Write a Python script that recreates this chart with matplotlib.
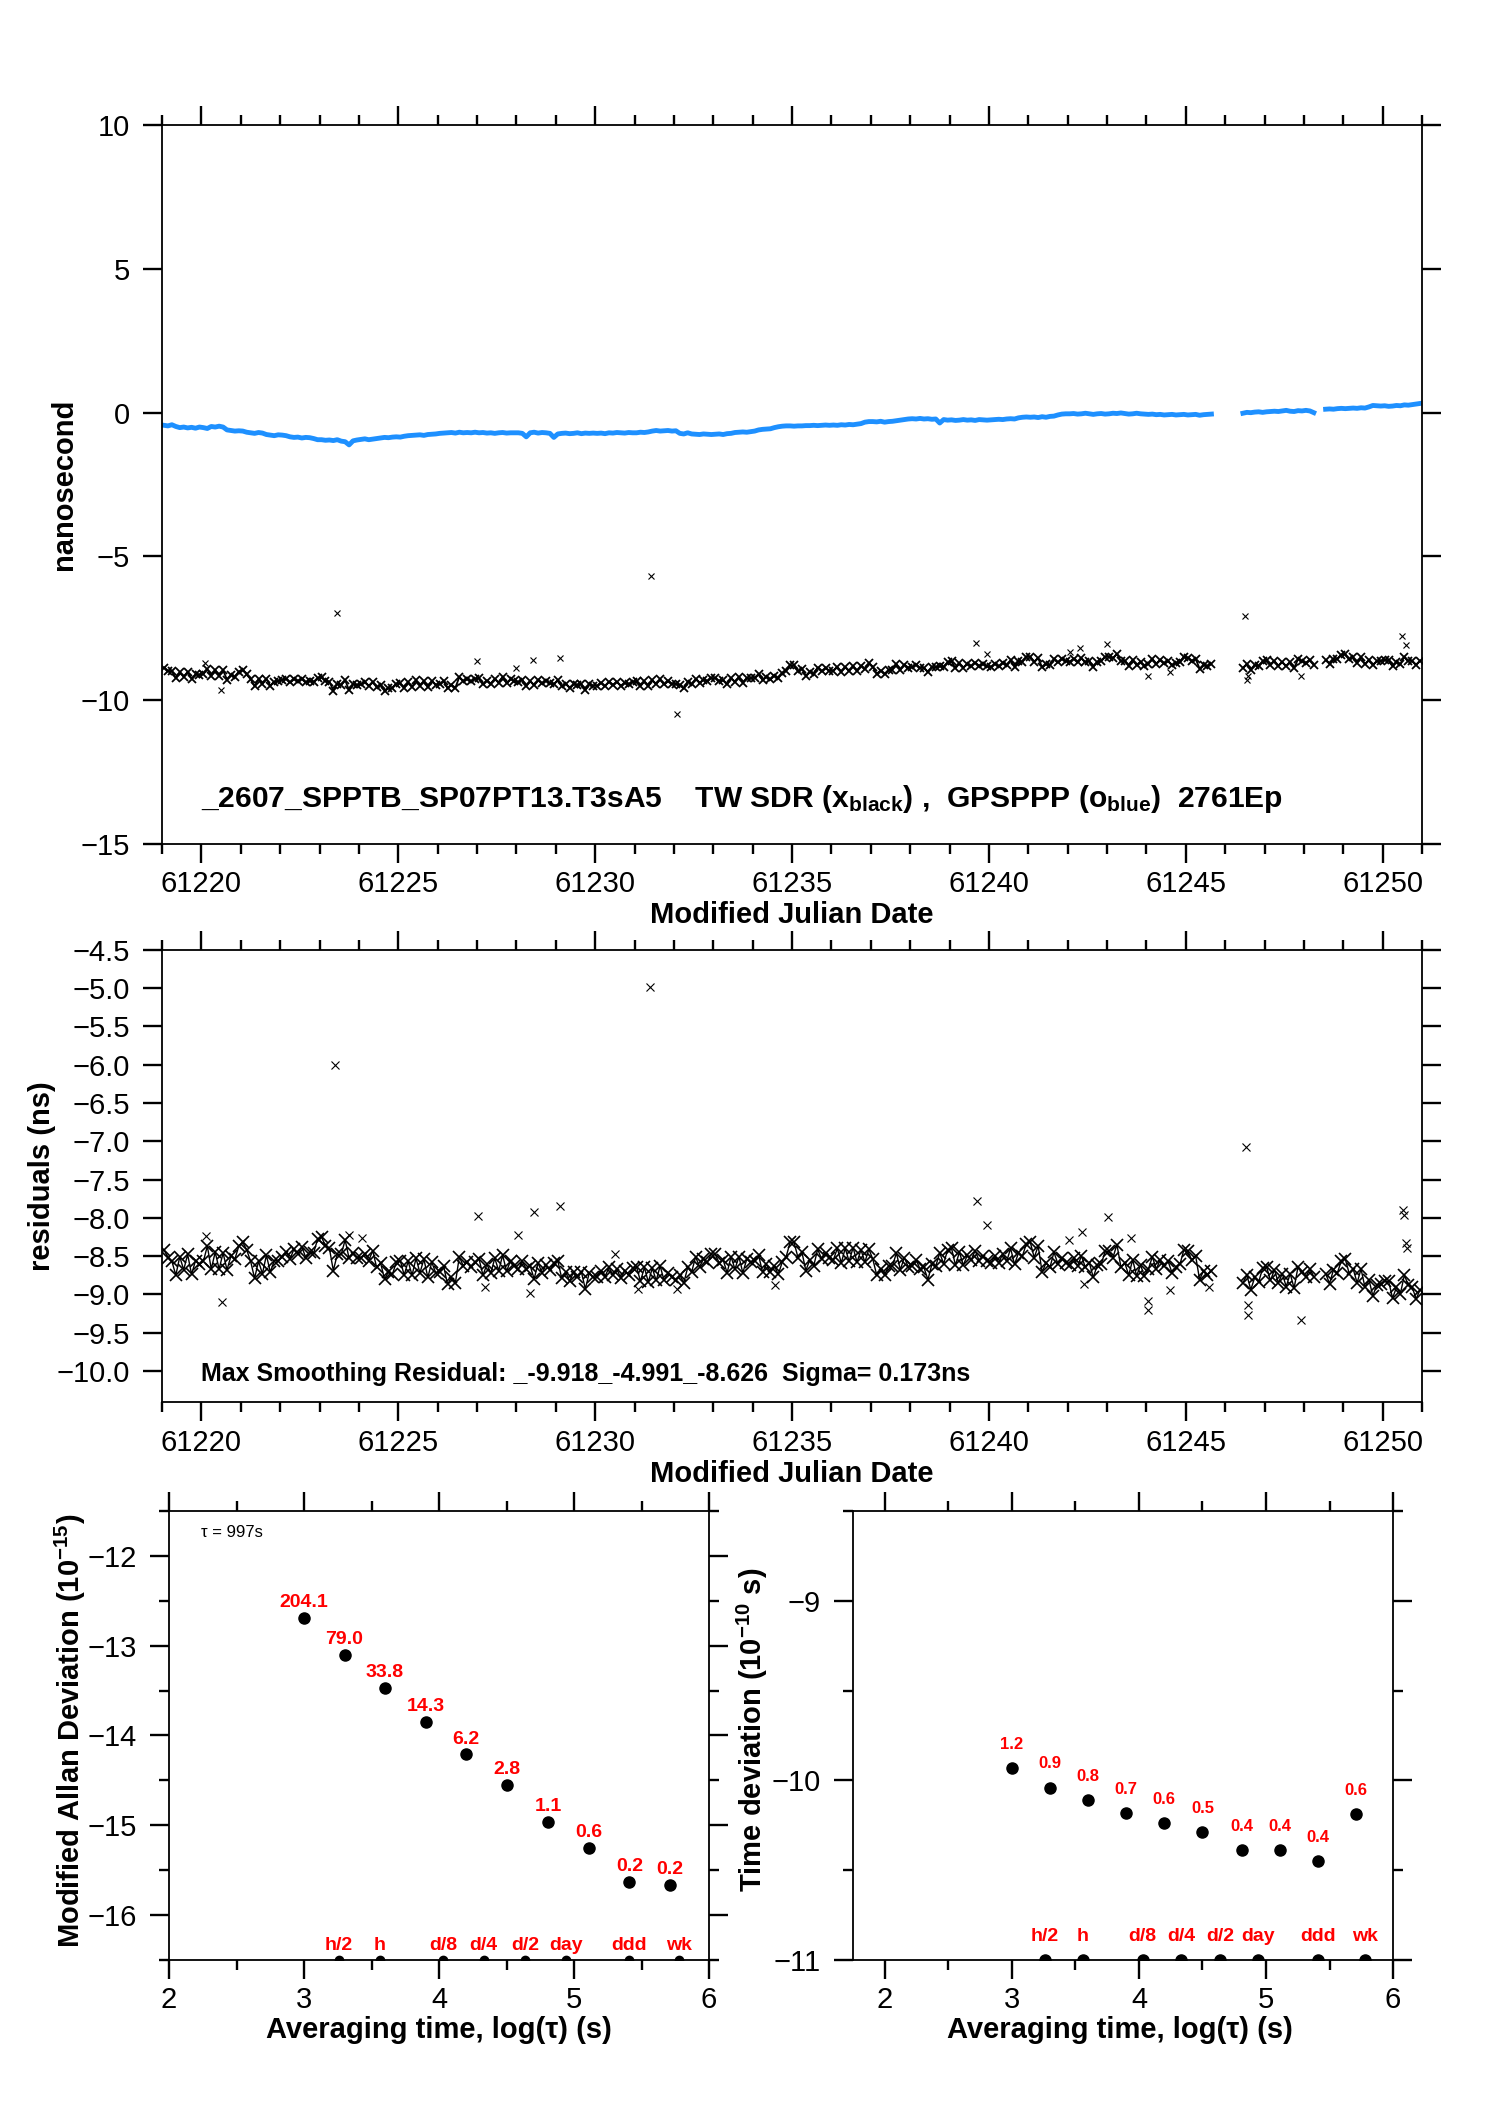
import numpy as np
import matplotlib
matplotlib.use('Agg')
import matplotlib.pyplot as plt
from matplotlib.ticker import MultipleLocator

nan = np.nan

# GPSPPP offset (ns), one value every 0.1 d starting at MJD 61219.05
gps_ppp = [
    -0.44, -0.46, -0.42, -0.48, -0.52, -0.50, -0.53, -0.51, -0.54, -0.50,
    -0.52, -0.55, -0.48, -0.50, -0.47, -0.50, -0.60, -0.62, -0.64, -0.63,
    -0.64, -0.68, -0.70, -0.72, -0.69, -0.71, -0.76, -0.78, -0.80, -0.77,
    -0.78, -0.80, -0.84, -0.86, -0.85, -0.88, -0.86, -0.87, -0.90, -0.94,
    -0.94, -0.96, -0.95, -0.97, -0.94, -0.99, -1.01, -1.12, -0.98, -0.95,
    -0.93, -0.91, -0.94, -0.92, -0.90, -0.88, -0.86, -0.87, -0.85, -0.84,
    -0.85, -0.82, -0.80, -0.79, -0.78, -0.77, -0.79, -0.76, -0.75, -0.74,
    -0.72, -0.71, -0.70, -0.69, -0.71, -0.68, -0.70, -0.69, -0.70, -0.68,
    -0.70, -0.69, -0.71, -0.70, -0.72, -0.70, -0.69, -0.71, -0.70, -0.70,
    -0.70, -0.72, -0.84, -0.70, -0.68, -0.71, -0.69, -0.70, -0.72, -0.86,
    -0.74, -0.72, -0.71, -0.73, -0.72, -0.70, -0.73, -0.71, -0.72, -0.71,
    -0.72, -0.71, -0.73, -0.70, -0.71, -0.69, -0.70, -0.71, -0.69, -0.70,
    -0.70, -0.68, -0.69, -0.67, -0.64, -0.62, -0.64, -0.63, -0.62, -0.64,
    -0.63, -0.72, -0.74, -0.70, -0.74, -0.75, -0.76, -0.74, -0.75, -0.76,
    -0.75, -0.74, -0.76, -0.73, -0.72, -0.69, -0.68, -0.67, -0.68, -0.66,
    -0.64, -0.60, -0.58, -0.57, -0.56, -0.52, -0.49, -0.47, -0.46, -0.46,
    -0.47, -0.46, -0.46, -0.45, -0.45, -0.44, -0.45, -0.44, -0.43, -0.44,
    -0.43, -0.44, -0.42, -0.43, -0.41, -0.42, -0.40, -0.38, -0.33, -0.31,
    -0.31, -0.32, -0.30, -0.33, -0.31, -0.30, -0.28, -0.26, -0.24, -0.22,
    -0.21, -0.22, -0.20, -0.22, -0.21, -0.23, -0.22, -0.36, -0.24, -0.26,
    -0.25, -0.27, -0.26, -0.24, -0.26, -0.25, -0.27, -0.24, -0.25, -0.26,
    -0.25, -0.24, -0.23, -0.24, -0.22, -0.21, -0.22, -0.18, -0.16, -0.15,
    -0.16, -0.15, -0.17, -0.14, -0.16, -0.13, -0.12, -0.08, -0.05, -0.04,
    -0.04, -0.03, -0.05, -0.04, -0.02, -0.04, -0.06, -0.04, -0.03, -0.05,
    -0.04, -0.02, -0.03, -0.01, -0.03, -0.05, -0.04, -0.02, -0.04, -0.05,
    -0.06, -0.05, -0.07, -0.06, -0.08, -0.07, -0.06, -0.08, -0.07, -0.06,
    -0.08, -0.07, -0.06, -0.09, -0.07, -0.06, -0.05, nan, nan, nan,
    nan, nan, nan, nan, -0.02, 0.01, 0.00, 0.02, 0.03, 0.01,
    0.03, 0.04, 0.05, 0.04, 0.06, 0.08, 0.05, 0.04, 0.07, 0.06,
    0.08, 0.06, 0.00, nan, nan, 0.12, 0.13, 0.12, 0.14, 0.15,
    0.14, 0.15, 0.16, 0.15, 0.17, 0.16, 0.20, 0.25, 0.24, 0.23,
    0.24, 0.22, 0.23, 0.25, 0.24, 0.27, 0.26, 0.28, 0.30, 0.32,
]

# residuals TW SDR - GPSPPP (ns), same epochs
resid = [
    -8.42, -8.52, -8.57, -8.75, -8.51, -8.68, -8.48, -8.74, -8.56, -8.61,
    -8.57, -8.37, -8.67, -8.45, -8.67, -8.46, -8.68, -8.50, -8.54, -8.37,
    -8.32, -8.42, -8.57, -8.79, -8.57, -8.73, -8.49, -8.71, -8.56, -8.56,
    -8.51, -8.45, -8.54, -8.41, -8.47, -8.38, -8.52, -8.45, -8.46, -8.28,
    -8.25, -8.37, -8.40, -8.69, -8.48, -8.48, -8.29, -8.53, -8.46, -8.52,
    -8.52, -8.47, -8.56, -8.43, -8.65, -8.59, -8.80, -8.71, -8.74, -8.58,
    -8.56, -8.75, -8.57, -8.75, -8.53, -8.72, -8.54, -8.78, -8.58, -8.72,
    -8.71, -8.63, -8.87, -8.78, -8.85, -8.51, -8.63, -8.58, -8.64, -8.58,
    -8.54, -8.75, -8.61, -8.72, -8.53, -8.69, -8.49, -8.70, -8.56, -8.63,
    -8.67, -8.57, -8.67, -8.63, -8.80, -8.59, -8.72, -8.62, -8.68, -8.59,
    -8.56, -8.79, -8.71, -8.83, -8.71, -8.78, -8.71, -8.93, -8.72, -8.78,
    -8.77, -8.69, -8.77, -8.65, -8.75, -8.67, -8.79, -8.69, -8.75, -8.66,
    -8.64, -8.83, -8.65, -8.84, -8.66, -8.82, -8.63, -8.82, -8.72, -8.78,
    -8.81, -8.75, -8.85, -8.65, -8.71, -8.51, -8.64, -8.54, -8.58, -8.47,
    -8.48, -8.59, -8.55, -8.72, -8.51, -8.67, -8.51, -8.72, -8.54, -8.58,
    -8.57, -8.49, -8.71, -8.61, -8.71, -8.63, -8.74, -8.58, -8.51, -8.32,
    -8.32, -8.52, -8.45, -8.69, -8.55, -8.63, -8.41, -8.54, -8.46, -8.53,
    -8.55, -8.40, -8.59, -8.40, -8.57, -8.39, -8.58, -8.42, -8.58, -8.41,
    -8.54, -8.75, -8.67, -8.75, -8.63, -8.63, -8.46, -8.68, -8.52, -8.64,
    -8.63, -8.55, -8.67, -8.65, -8.81, -8.61, -8.63, -8.46, -8.60, -8.42,
    -8.40, -8.62, -8.45, -8.62, -8.49, -8.55, -8.43, -8.56, -8.50, -8.56,
    -8.59, -8.50, -8.59, -8.47, -8.57, -8.40, -8.61, -8.46, -8.50, -8.34,
    -8.32, -8.52, -8.37, -8.71, -8.59, -8.65, -8.45, -8.60, -8.52, -8.59,
    -8.62, -8.53, -8.63, -8.50, -8.65, -8.59, -8.78, -8.62, -8.61, -8.44,
    -8.44, -8.52, -8.35, -8.64, -8.59, -8.75, -8.55, -8.76, -8.62, -8.76,
    -8.67, -8.51, -8.67, -8.55, -8.63, -8.57, -8.72, -8.64, -8.61, -8.42,
    -8.44, -8.55, -8.50, -8.81, -8.69, -8.75, -8.69, nan, nan, nan,
    nan, nan, nan, nan, -8.85, -8.75, -8.94, -8.78, -8.84, -8.66,
    -8.64, -8.82, -8.68, -8.85, -8.73, -8.90, -8.73, -8.92, -8.64, -8.71,
    -8.77, -8.67, -8.77, nan, nan, -8.73, -8.86, -8.68, -8.72, -8.56,
    -8.54, -8.73, -8.67, -8.85, -8.67, -8.91, -8.81, -9.02, -8.88, -8.86,
    -8.83, -8.83, -9.05, -8.91, -8.99, -8.75, -8.88, -8.91, -9.06, -8.94,
]

# isolated points seen in the top panel (TW SDR, ns)
tw_out_mjd = [61220.10, 61220.50, 61223.44, 61227.00, 61228.00, 61228.43,
              61229.10, 61231.42, 61232.09, 61239.68, 61239.94, 61242.05,
              61242.32, 61243.00, 61244.04, 61244.60, 61246.50, 61246.55,
              61246.57, 61247.92, 61250.50, 61250.60]
tw_out_ns = [-8.70, -9.63, -6.97, -8.62, -8.88, -8.59,
             -8.53, -5.67, -10.49, -8.01, -8.39, -8.32,
             -8.18, -8.04, -9.17, -9.00, -7.08, -9.28,
             -9.14, -9.17, -7.75, -8.07]

# isolated points seen in the residual panel (ns)
res_out_mjd = [61220.12, 61220.52, 61223.39, 61223.76, 61224.09, 61227.02,
               61227.20, 61228.03, 61228.35, 61228.45, 61229.11, 61230.50,
               61231.10, 61231.39, 61232.09, 61234.57, 61239.69, 61239.95,
               61242.04, 61242.36, 61242.42, 61243.03, 61243.61, 61244.03,
               61244.03, 61244.60, 61245.58, 61246.53, 61246.59, 61246.59,
               61247.93, 61250.51, 61250.53, 61250.60, 61250.62]
res_out_ns = [-8.24, -9.10, -6.00, -8.23, -8.27, -7.98,
              -8.90, -8.22, -8.98, -7.93, -7.84, -8.47,
              -8.93, -4.99, -8.93, -8.88, -7.78, -8.09,
              -8.29, -8.18, -8.86, -7.99, -8.27, -9.09,
              -9.20, -8.95, -8.91, -7.08, -9.14, -9.27,
              -9.34, -7.90, -7.96, -8.33, -8.40]

# stability results, log10(tau) and log10 of the deviations
log_tau = [3.00, 3.30, 3.60, 3.90, 4.20, 4.50, 4.81, 5.11, 5.41, 5.71]
log_mdev = [-12.69, -13.10, -13.47, -13.85, -14.21, -14.55, -14.96, -15.25, -15.63, -15.66]
mdev_labels = ['204.1', '79.0', '33.8', '14.3', '6.2', '2.8', '1.1', '0.6', '0.2', '0.2']
log_tdev = [-9.93, -10.04, -10.11, -10.18, -10.24, -10.29, -10.39, -10.39, -10.45, -10.19]
tdev_labels = ['1.2', '0.9', '0.8', '0.7', '0.6', '0.5', '0.4', '0.4', '0.4', '0.6']

span_names = ['h/2', 'h', 'd/8', 'd/4', 'd/2', 'day', 'ddd', 'wk']
span_logtau = [3.26, 3.56, 4.03, 4.33, 4.64, 4.94, 5.41, 5.78]

plt.rcParams['font.family'] = ['Liberation Sans', 'DejaVu Sans']
plt.rcParams['mathtext.fontset'] = 'custom'
plt.rcParams['mathtext.rm'] = 'Liberation Sans'
plt.rcParams['mathtext.bf'] = 'Liberation Sans:bold'
plt.rcParams['mathtext.it'] = 'Liberation Sans:italic'
plt.rcParams['axes.linewidth'] = 1.3

mjd = 61219.05 + 0.1 * np.arange(len(resid))
tw_sdr = np.array(gps_ppp) + np.array(resid)

fig = plt.figure(figsize=(14.88, 21.05), dpi=100)
ax1 = fig.add_axes([0.1089, 0.5990, 0.8468, 0.3416])
ax2 = fig.add_axes([0.1089, 0.3339, 0.8468, 0.2148])
ax3 = fig.add_axes([0.1136, 0.0689, 0.3629, 0.2133])
ax4 = fig.add_axes([0.5733, 0.0689, 0.3629, 0.2133])

red = '#ff0000'
blue = '#1e90ff'


def style(ax):
    ax.tick_params(which='both', direction='out', top=True, right=True,
                   width=1.7, labelsize=21, colors='black')
    ax.tick_params(axis='x', which='both', pad=5)
    ax.tick_params(axis='y', which='both', pad=9)
    ax.tick_params(which='major', length=14)
    ax.tick_params(which='minor', length=7)


# top panel
ax1.plot(mjd, gps_ppp, '-', color=blue, lw=3.5)
ax1.plot(mjd, tw_sdr, '-', color='black', lw=1.3)
ax1.plot(mjd, tw_sdr, 'x', color='black', ms=6, mew=1.3)
ax1.plot(tw_out_mjd, tw_out_ns, 'x', color='black', ms=4.5, mew=0.8)
ax1.set_xlim(61219, 61251)
ax1.set_ylim(-15, 10)
ax1.xaxis.set_major_locator(MultipleLocator(5))
ax1.xaxis.set_minor_locator(MultipleLocator(1))
ax1.yaxis.set_major_locator(MultipleLocator(5))
style(ax1)
ax1.set_xlabel('Modified Julian Date', fontsize=21, fontweight='bold')
ax1.xaxis.set_label_coords(0.5, -0.079)
ax1.set_ylabel('nanosecond', fontsize=21, fontweight='bold')
ax1.yaxis.set_label_coords(-0.067, 0.5)
ax1.text(61220.0, -13.72,
         '_2607_SPPTB_SP07PT13.T3sA5    TW SDR (x$_{\\mathbf{black}}$) ,  '
         'GPSPPP (o$_{\\mathbf{blue}}$)  2761Ep',
         fontsize=21.6, fontweight='bold', va='baseline', ha='left')

# residual panel
ax2.plot(mjd, resid, '-', color='black', lw=1.0)
ax2.plot(mjd, resid, 'x', color='black', ms=8, mew=1.2)
ax2.plot(res_out_mjd, res_out_ns, 'x', color='black', ms=5.5, mew=0.8)
ax2.set_xlim(61219, 61251)
ax2.set_ylim(-10.41, -4.5)
ax2.xaxis.set_major_locator(MultipleLocator(5))
ax2.xaxis.set_minor_locator(MultipleLocator(1))
ax2.yaxis.set_major_locator(MultipleLocator(0.5))
style(ax2)
ax2.set_xlabel('Modified Julian Date', fontsize=21, fontweight='bold')
ax2.xaxis.set_label_coords(0.5, -0.127)
ax2.set_ylabel('residuals (ns)', fontsize=21, fontweight='bold')
ax2.yaxis.set_label_coords(-0.084, 0.5)
ax2.text(61220.0, -10.13,
         'Max Smoothing Residual: _-9.918_-4.991_-8.626  Sigma= 0.173ns',
         fontsize=18, fontweight='bold', va='baseline', ha='left')

# modified Allan deviation
ax3.plot(log_tau, log_mdev, 'o', color='black', ms=8)
for x, y, s in zip(log_tau, log_mdev, mdev_labels):
    ax3.annotate(s, (x, y), xytext=(0, 11), textcoords='offset points',
                 ha='center', va='center', color=red, fontsize=14, fontweight='bold')
ax3.plot(span_logtau, [-16.5] * len(span_logtau), 'o', color='black', ms=6, clip_on=True)
for x, s in zip(span_logtau, span_names):
    ax3.annotate(s, (x, -16.5), xytext=(0, 10.5), textcoords='offset points',
                 ha='center', va='center', color=red, fontsize=14, fontweight='bold')
ax3.text(0.059, 0.953, '\u03c4 = 997s', transform=ax3.transAxes,
         fontsize=12, ha='left', va='center')
ax3.set_xlim(2, 6)
ax3.set_ylim(-16.5, -11.5)
ax3.xaxis.set_major_locator(MultipleLocator(1))
ax3.xaxis.set_minor_locator(MultipleLocator(0.5))
ax3.yaxis.set_major_locator(MultipleLocator(1))
ax3.yaxis.set_minor_locator(MultipleLocator(0.5))
style(ax3)
ax3.set_xlabel('Averaging time, log(\u03c4) (s)', fontsize=21, fontweight='bold')
ax3.xaxis.set_label_coords(0.5, -0.124)
ax3.set_ylabel('Modified Allan Deviation (10$^{\\mathbf{-15}}$)', fontsize=21, fontweight='bold')
ax3.yaxis.set_label_coords(-0.15, 0.51)

# time deviation
ax4.plot(log_tau, log_tdev, 'o', color='black', ms=8)
for x, y, s in zip(log_tau, log_tdev, tdev_labels):
    ax4.annotate(s, (x, y), xytext=(0, 17), textcoords='offset points',
                 ha='center', va='center', color=red, fontsize=12, fontweight='bold')
ax4.plot(span_logtau, [-11] * len(span_logtau), 'o', color='black', ms=8, clip_on=True)
for x, s in zip(span_logtau, span_names):
    ax4.annotate(s, (x, -11), xytext=(0, 17), textcoords='offset points',
                 ha='center', va='center', color=red, fontsize=14, fontweight='bold')
ax4.set_xlim(1.75, 6)
ax4.set_ylim(-11, -8.5)
ax4.xaxis.set_major_locator(MultipleLocator(1))
ax4.xaxis.set_minor_locator(MultipleLocator(0.5))
ax4.yaxis.set_major_locator(MultipleLocator(1))
ax4.yaxis.set_minor_locator(MultipleLocator(0.5))
style(ax4)
ax4.set_xlabel('Averaging time, log(\u03c4) (s)', fontsize=21, fontweight='bold')
ax4.xaxis.set_label_coords(0.494, -0.124)
ax4.set_ylabel('Time deviation (10$^{\\mathbf{-10}}$ s)', fontsize=21, fontweight='bold')
ax4.yaxis.set_label_coords(-0.154, 0.512)

fig.savefig('out.png', dpi=100, facecolor='white')
